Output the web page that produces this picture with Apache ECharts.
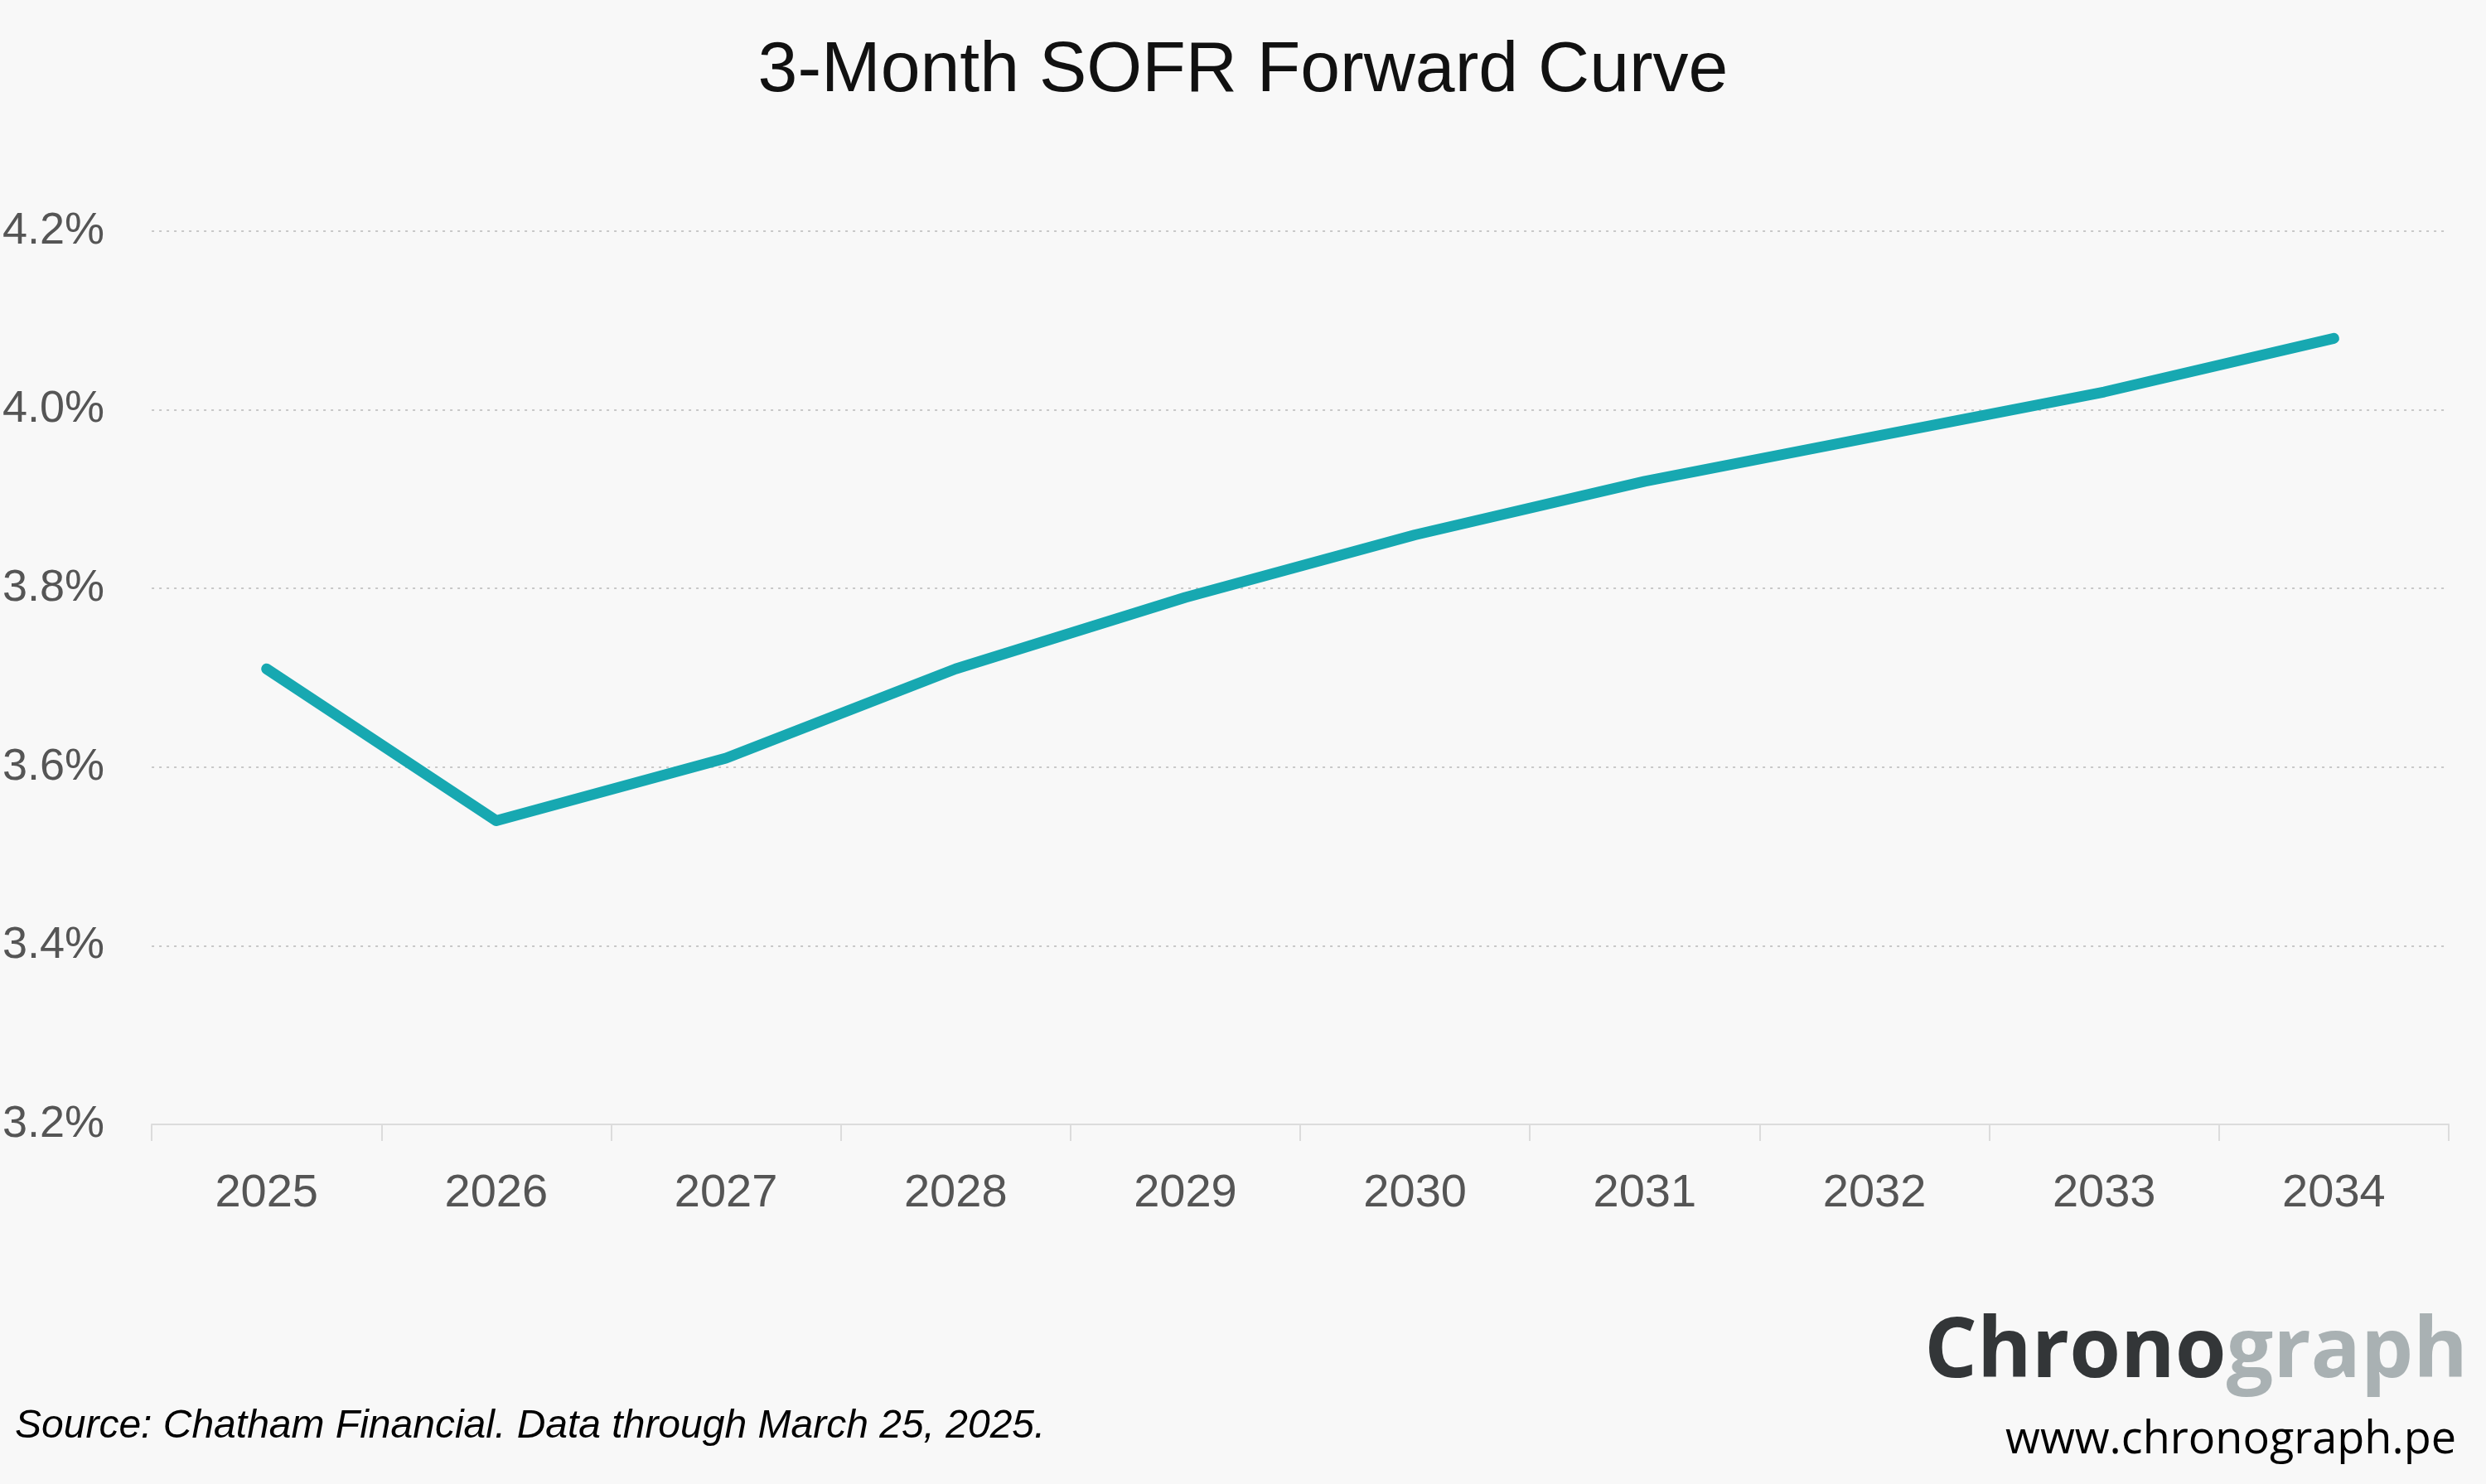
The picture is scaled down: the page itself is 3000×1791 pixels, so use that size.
<!DOCTYPE html>
<html>
<head>
<meta charset="utf-8">
<script src="https://cdn.jsdelivr.net/npm/echarts@6/dist/echarts.min.js"></script>
<style>
html,body{margin:0;padding:0;background:#f8f8f8;}
#chart{width:3000px;height:1791px;}
</style>
</head>
<body>
<div id="chart"></div>
<script>
const years = ['2025','2026','2027','2028','2029','2030','2031','2032','2033','2034'];
const sofrForward = [3.71, 3.54, 3.61, 3.71, 3.79, 3.86, 3.92, 3.97, 4.02, 4.08];
const yTicks = [3.2, 3.4, 3.6, 3.8, 4.0, 4.2];

const chart = echarts.init(document.getElementById('chart'));
const font = '"Liberation Sans", Arial, sans-serif';
chart.setOption({
  backgroundColor: '#f8f8f8',
  animation: false,
  title: {
    text: '3-Month SOFR Forward Curve',
    left: 'center',
    top: 38,
    textStyle: {fontFamily: font, fontSize: 86, fontWeight: 'normal', color: '#111'}
  },
  grid: {left: 177, right: 45, top: 279, bottom: 434},
  xAxis: {
    type: 'category',
    data: years,
    boundaryGap: true,
    axisLine: {lineStyle: {color: '#dcdcdc', width: 2}},
    axisTick: {show: true, length: 20, lineStyle: {color: '#dcdcdc', width: 2}},
    axisLabel: {fontFamily: font, fontSize: 56, color: '#555', margin: 56}
  },
  yAxis: {
    type: 'value',
    min: yTicks[0],
    max: yTicks[yTicks.length - 1],
    interval: 0.2,
    axisLine: {show: false},
    axisTick: {show: false},
    splitLine: {lineStyle: {color: '#c8c8c8', type: [3, 6], width: 2}},
    axisLabel: {
      fontFamily: font, fontSize: 54, color: '#555', margin: 57,
      formatter: v => v.toFixed(1) + '%'
    }
  },
  series: [{
    type: 'line',
    data: sofrForward,
    symbol: 'none',
    lineStyle: {color: '#17a8b1', width: 13, cap: 'round', join: 'round'}
  }],
  graphic: [
    {
      type: 'text', left: 18, top: 1698,
      style: {text: 'Source: Chatham Financial. Data through March 25, 2025.',
        font: 'italic 48px "Liberation Sans", Arial, sans-serif', fill: '#000'}
    },
    {
      type: 'text', right: 22, top: 1584,
      style: {
        text: '{a|Chrono}{b|graph}',
        rich: {
          a: {fontFamily: '"Open Sans", sans-serif', fontWeight: 'bold', fontSize: 100, fill: '#333638', color: '#333638'},
          b: {fontFamily: '"Open Sans", sans-serif', fontWeight: 'bold', fontSize: 100, fill: '#a9b1b3', color: '#a9b1b3'}
        }
      }
    },
    {
      type: 'text', right: 36, top: 1712,
      style: {text: 'www.chronograph.pe', font: '54px "Open Sans", sans-serif', fill: '#000'}
    }
  ]
});
</script>
</body>
</html>
